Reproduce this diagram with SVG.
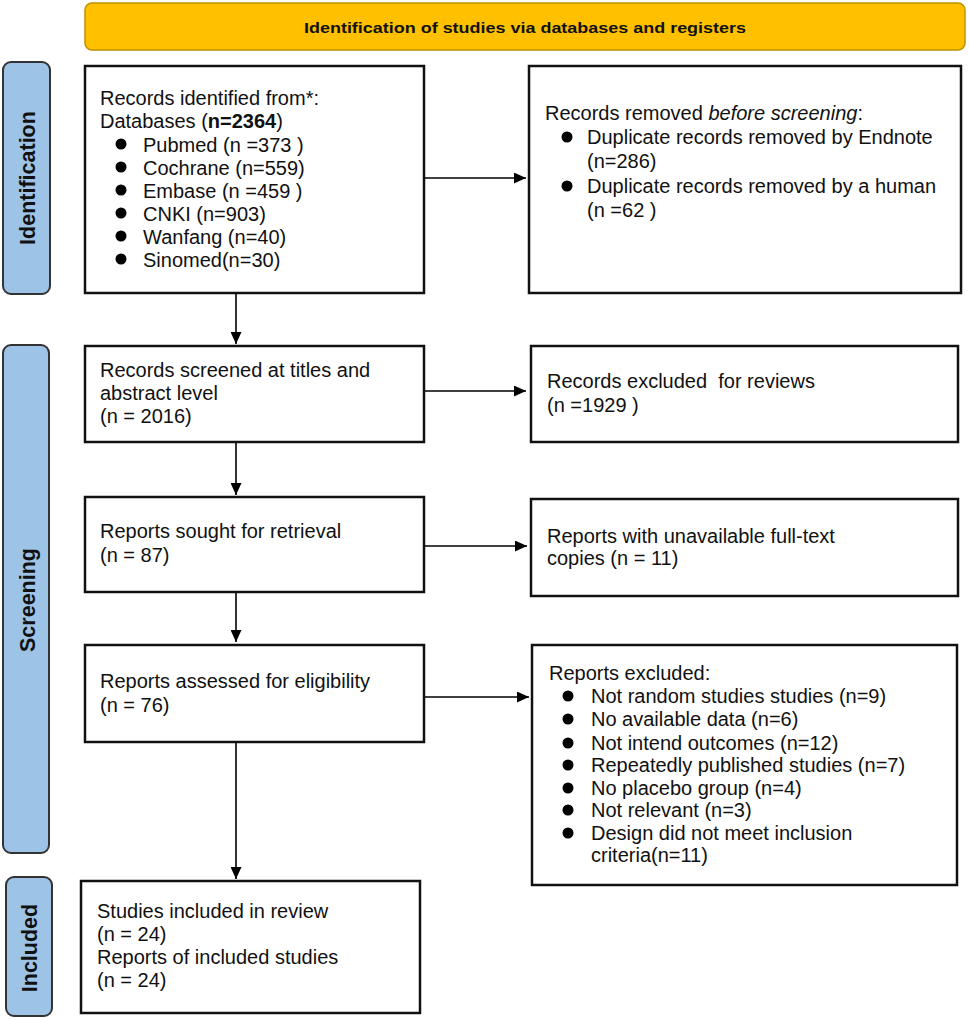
<svg xmlns="http://www.w3.org/2000/svg" width="969" height="1019" viewBox="0 0 969 1019">
<defs>
<marker id="ah" viewBox="0 0 12 11" refX="12" refY="5.5" markerWidth="12" markerHeight="11" markerUnits="userSpaceOnUse" orient="auto">
<path d="M0,0 L12,5.5 L0,11 z" fill="#000"/>
</marker>
<style>
.box{fill:#fff;stroke:#111;stroke-width:2.5}
.lab{fill:#9DC3E6;stroke:#333;stroke-width:2}
.t{font-family:"Liberation Sans",Arial,sans-serif;font-size:20px;fill:#111}
.lt{font-family:"Liberation Sans",Arial,sans-serif;font-size:21.5px;font-weight:bold;fill:#111;text-anchor:middle}
.c{stroke:#000;stroke-width:1.6;fill:none}
.d{fill:#000}
</style>
</defs>
<rect x="0" y="0" width="969" height="1019" fill="#fff"/>

<g id="banner">
<rect x="85" y="3" width="880" height="47" rx="7" fill="#FFC000" stroke="#BF9000" stroke-width="1.5"/>
<text x="525" y="32.5" font-family="Liberation Sans,Arial,sans-serif" font-size="15.5" font-weight="bold" fill="#111" text-anchor="middle" textLength="442" lengthAdjust="spacingAndGlyphs">Identification of studies via databases and registers</text>
</g>

<g id="label-identification">
<rect class="lab" x="3" y="62" width="47" height="232" rx="8"/>
<text class="lt" transform="translate(34.5,178) rotate(-90)">Identification</text>
</g>
<g id="label-screening">
<rect class="lab" x="3" y="345" width="46" height="508" rx="8"/>
<text class="lt" transform="translate(34.5,600) rotate(-90)">Screening</text>
</g>
<g id="label-included">
<rect class="lab" x="6" y="877" width="46" height="139" rx="8"/>
<text class="lt" transform="translate(37,948) rotate(-90)">Included</text>
</g>

<g id="records-identified">
<rect class="box" x="85" y="66" width="339" height="227"/>
<text class="t" x="100" y="105">Records identified from*:</text>
<text class="t" x="100" y="128">Databases (<tspan font-weight="bold">n=2364</tspan>)</text>
<circle class="d" cx="121" cy="144" r="5.5"/><text class="t" x="143" y="151.5">Pubmed (n =373 )</text>
<circle class="d" cx="121" cy="167" r="5.5"/><text class="t" x="143" y="174.5">Cochrane (n=559)</text>
<circle class="d" cx="121" cy="190" r="5.5"/><text class="t" x="143" y="197.5">Embase (n =459 )</text>
<circle class="d" cx="121" cy="213" r="5.5"/><text class="t" x="143" y="220.5">CNKI (n=903)</text>
<circle class="d" cx="121" cy="236" r="5.5"/><text class="t" x="143" y="243.5">Wanfang (n=40)</text>
<circle class="d" cx="121" cy="259" r="5.5"/><text class="t" x="143" y="266.5">Sinomed(n=30)</text>
</g>

<g id="records-removed">
<rect class="box" x="529" y="66" width="432" height="227"/>
<text class="t" x="545" y="120">Records removed <tspan font-style="italic">before screening</tspan>:</text>
<circle class="d" cx="567" cy="137" r="5.5"/><text class="t" x="587" y="144">Duplicate records removed by Endnote</text>
<text class="t" x="587" y="168">(n=286)</text>
<circle class="d" cx="567" cy="186" r="5.5"/><text class="t" x="587" y="193">Duplicate records removed by a human</text>
<text class="t" x="587" y="217">(n =62 )</text>
</g>

<g id="records-screened">
<rect class="box" x="85" y="346" width="339" height="96"/>
<text class="t" x="100" y="377">Records screened at titles and</text>
<text class="t" x="100" y="400">abstract level</text>
<text class="t" x="100" y="423">(n = 2016)</text>
</g>

<g id="records-excluded">
<rect class="box" x="531" y="346" width="427" height="96"/>
<text class="t" x="547" y="388" style="white-space:pre">Records excluded  for reviews</text>
<text class="t" x="547" y="412">(n =1929 )</text>
</g>

<g id="reports-sought">
<rect class="box" x="85" y="497" width="339" height="95"/>
<text class="t" x="100" y="538">Reports sought for retrieval</text>
<text class="t" x="100" y="562">(n = 87)</text>
</g>

<g id="reports-unavailable">
<rect class="box" x="531" y="499" width="427" height="97"/>
<text class="t" x="547" y="543">Reports with unavailable full-text</text>
<text class="t" x="547" y="565">copies (n = 11)</text>
</g>

<g id="reports-assessed">
<rect class="box" x="85" y="645" width="339" height="97"/>
<text class="t" x="100" y="688">Reports assessed for eligibility</text>
<text class="t" x="100" y="712">(n = 76)</text>
</g>

<g id="reports-excluded">
<rect class="box" x="532" y="645" width="425" height="240"/>
<text class="t" x="549" y="680">Reports excluded:</text>
<circle class="d" cx="568" cy="696" r="5.5"/><text class="t" x="591" y="703">Not random studies studies (n=9)</text>
<circle class="d" cx="568" cy="719" r="5.5"/><text class="t" x="591" y="726">No available data (n=6)</text>
<circle class="d" cx="568" cy="743" r="5.5"/><text class="t" x="591" y="750">Not intend outcomes (n=12)</text>
<circle class="d" cx="568" cy="765" r="5.5"/><text class="t" x="591" y="772">Repeatedly published studies (n=7)</text>
<circle class="d" cx="568" cy="788" r="5.5"/><text class="t" x="591" y="795">No placebo group (n=4)</text>
<circle class="d" cx="568" cy="810" r="5.5"/><text class="t" x="591" y="817">Not relevant (n=3)</text>
<circle class="d" cx="568" cy="833" r="5.5"/><text class="t" x="591" y="840">Design did not meet inclusion</text>
<text class="t" x="591" y="862">criteria(n=11)</text>
</g>

<g id="studies-included">
<rect class="box" x="81" y="881" width="339" height="132"/>
<text class="t" x="97" y="918">Studies included in review</text>
<text class="t" x="97" y="941">(n = 24)</text>
<text class="t" x="97" y="964">Reports of included studies</text>
<text class="t" x="97" y="987">(n = 24)</text>
</g>

<g id="connectors">
<line class="c" x1="425" y1="178" x2="526" y2="178" marker-end="url(#ah)"/>
<line class="c" x1="425" y1="391" x2="526" y2="391" marker-end="url(#ah)"/>
<line class="c" x1="425" y1="546" x2="527" y2="546" marker-end="url(#ah)"/>
<line class="c" x1="425" y1="697" x2="529" y2="697" marker-end="url(#ah)"/>
<line class="c" x1="236" y1="294" x2="236" y2="344" marker-end="url(#ah)"/>
<line class="c" x1="236" y1="443" x2="236" y2="495" marker-end="url(#ah)"/>
<line class="c" x1="236" y1="593" x2="236" y2="642" marker-end="url(#ah)"/>
<line class="c" x1="236" y1="743" x2="236" y2="879" marker-end="url(#ah)"/>
</g>
</svg>
